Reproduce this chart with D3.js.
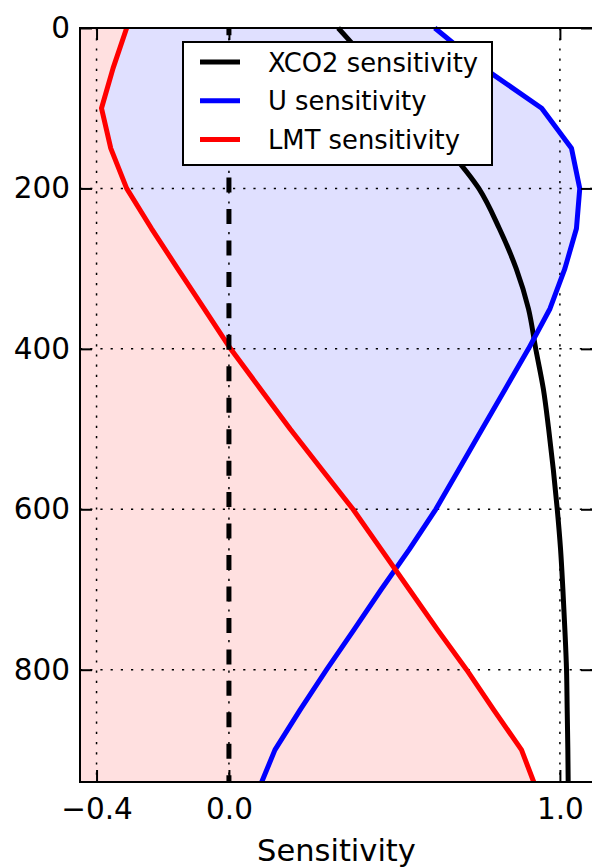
<!DOCTYPE html>
<html>
<head>
<meta charset="utf-8">
<script src="https://cdn.jsdelivr.net/npm/d3@7"></script>
<style>
  body { margin: 0; background: #fff; }
  svg { display: block; font-family: "DejaVu Sans", sans-serif; }
</style>
</head>
<body>
<svg id="chart" width="592" height="868"></svg>
<script>
// pressure levels (y) and the three sensitivity profiles (x)
const pressure = [0, 50, 100, 150, 200, 250, 300, 350, 400, 450, 500, 550, 600, 650, 700, 750, 800, 850, 900, 940];
const xco2 = [0.33, 0.44, 0.55, 0.66, 0.755, 0.817, 0.868, 0.905, 0.927, 0.950, 0.966, 0.980, 0.992, 1.002, 1.009, 1.015, 1.020, 1.022, 1.024, 1.025];
const uSens = [0.622, 0.77, 0.945, 1.035, 1.060, 1.050, 1.015, 0.97, 0.905, 0.835, 0.765, 0.695, 0.625, 0.545, 0.46, 0.378, 0.295, 0.215, 0.139, 0.099];
const lmt = [-0.309, -0.35, -0.385, -0.357, -0.309, -0.234, -0.155, -0.075, 0.005, 0.095, 0.185, 0.28, 0.375, 0.46, 0.545, 0.63, 0.718, 0.80, 0.884, 0.921];

const xTicks = [-0.4, 0.0, 1.0];
const yTicks = [0, 200, 400, 600, 800];
const seriesNames = ["XCO2 sensitivity", "U sensitivity", "LMT sensitivity"];
const seriesColors = ["#000000", "#0000ff", "#ff0000"];

const svg = d3.select("#chart");
const mLeft = 80, mRight = 593, mTop = 28, mBottom = 782;

const x = d3.scaleLinear().domain([-0.45, 1.1]).range([mLeft, mRight]);
const y = d3.scaleLinear().domain([0, 940]).range([mTop, mBottom]);

const rows = pressure.map((p, i) => ({p, xco2: xco2[i], u: uSens[i], lmt: lmt[i]}));

// pink fill: from the left edge to the LMT curve
svg.append("path")
  .datum(rows)
  .attr("fill", "#ff0000")
  .attr("fill-opacity", 0.12)
  .attr("d", d3.area()
    .y(d => y(d.p))
    .x0(() => x(x.domain()[0]))
    .x1(d => x(d.lmt)));

// lavender fill: between LMT and U where U > LMT
const upper = [];
for (let i = 0; i < rows.length; i++) {
  const r = rows[i];
  if (r.u >= r.lmt) upper.push(r);
  else {
    const a = rows[i - 1];
    const da = a.u - a.lmt, db = r.u - r.lmt;
    const t = da / (da - db);
    const pc = a.p + t * (r.p - a.p);
    const v = a.lmt + t * (r.lmt - a.lmt);
    upper.push({p: pc, u: v, lmt: v});
    break;
  }
}
svg.append("path")
  .datum(upper)
  .attr("fill", "#0000ff")
  .attr("fill-opacity", 0.12)
  .attr("d", d3.area()
    .y(d => y(d.p))
    .x0(d => x(d.lmt))
    .x1(d => x(d.u)));

// dotted grid
const grid = svg.append("g")
  .attr("stroke", "#000")
  .attr("stroke-width", 1.5)
  .attr("stroke-dasharray", "2.2,8");
grid.selectAll(".gx").data(xTicks).enter().append("line")
  .attr("x1", d => x(d)).attr("x2", d => x(d))
  .attr("y1", mTop).attr("y2", mBottom);
grid.selectAll(".gy").data(yTicks.slice(1)).enter().append("line")
  .attr("y1", d => y(d)).attr("y2", d => y(d))
  .attr("x1", mLeft).attr("x2", mRight);

// profile lines (XCO2 is a smooth profile in the original)
const cols = ["xco2", "u", "lmt"];
cols.forEach((c, i) => {
  svg.append("path")
    .datum(rows)
    .attr("fill", "none")
    .attr("stroke", seriesColors[i])
    .attr("stroke-width", 5)
    .attr("stroke-linejoin", "round")
    .attr("d", d3.line()
      .curve(c === "xco2" ? d3.curveMonotoneY : d3.curveLinear)
      .x(d => x(d[c])).y(d => y(d.p)));
});

// dashed zero line
svg.append("line")
  .attr("x1", x(0)).attr("x2", x(0))
  .attr("y1", y(0)).attr("y2", y(940))
  .attr("stroke", "#000")
  .attr("stroke-width", 5)
  .attr("stroke-dasharray", "15,16.46")
  .attr("stroke-dashoffset", 7.8);

// axes with inward ticks
const fmt = d3.format(".1f");
const axisStyle = g => {
  g.select(".domain").remove();
  g.selectAll(".tick line").attr("stroke", "#000").attr("stroke-width", 2);
  g.selectAll("text").attr("fill", "#000").attr("font-size", 29.5).attr("font-family", "DejaVu Sans");
};
svg.append("g").attr("transform", `translate(${mLeft},0)`)
  .call(d3.axisLeft(y).tickValues(yTicks).tickSize(-12).tickPadding(10))
  .call(axisStyle);
svg.append("g").attr("transform", `translate(${mRight},0)`)
  .call(d3.axisRight(y).tickValues(yTicks).tickSize(-12).tickFormat(""))
  .call(axisStyle);
svg.append("g").attr("transform", `translate(0,${mBottom})`)
  .call(d3.axisBottom(x).tickValues(xTicks).tickSize(-12).tickPadding(16).tickFormat(fmt))
  .call(axisStyle);
svg.append("g").attr("transform", `translate(0,${mTop})`)
  .call(d3.axisTop(x).tickValues(xTicks).tickSize(-12).tickFormat(""))
  .call(axisStyle);

// frame
svg.append("rect")
  .attr("x", mLeft).attr("y", mTop)
  .attr("width", mRight - mLeft).attr("height", mBottom - mTop)
  .attr("fill", "none").attr("stroke", "#000").attr("stroke-width", 2);

svg.append("text")
  .attr("x", (mLeft + mRight) / 2).attr("y", 861)
  .attr("text-anchor", "middle")
  .attr("font-size", 30.5)
  .text("Sensitivity");

// legend
const legend = svg.append("g").attr("transform", "translate(183,42)");
legend.append("rect")
  .attr("width", 309).attr("height", 123)
  .attr("fill", "#fff").attr("stroke", "#000").attr("stroke-width", 2);
seriesNames.forEach((name, i) => {
  const ly = 20 + i * 38.7;
  legend.append("line")
    .attr("x1", 17).attr("x2", 57).attr("y1", ly).attr("y2", ly)
    .attr("stroke", seriesColors[i]).attr("stroke-width", 5);
  legend.append("text")
    .attr("x", 85).attr("y", ly + 9.5)
    .attr("font-size", 25.8)
    .text(name);
});
</script>
</body>
</html>
